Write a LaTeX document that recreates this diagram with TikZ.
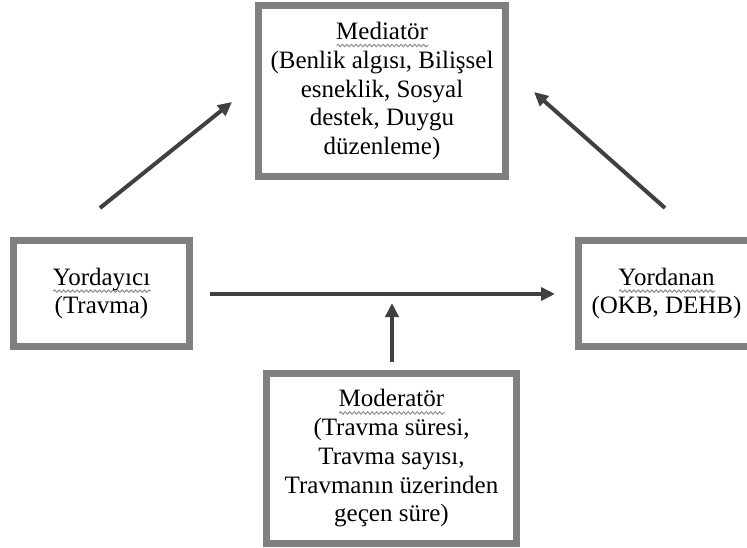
\documentclass[tikz,border=0pt]{standalone}
\usepackage{fontspec}
\setmainfont{Liberation Serif}
\usetikzlibrary{arrows.meta,decorations.pathmorphing}

\definecolor{framegray}{HTML}{7F7F7F}
\definecolor{arrowgray}{HTML}{404040}
\definecolor{squiggray}{HTML}{8C8C8C}

% wavy spell-check line under a word
\newcommand{\squig}[1]{%
  \setbox0=\hbox{#1}%
  \rlap{\tikz[baseline=0pt]\draw[squiggray,line width=1pt,
      decorate,decoration={snake,segment length=4.5pt,amplitude=1.2pt}]
      (0pt,-6pt) -- (\wd0,-6pt);}%
  \box0}

\tikzset{
  box/.style={draw=framegray, line width=7pt, rectangle, inner sep=0pt,
    align=center, font=\fontsize{25}{28.75}\selectfont},
  link/.style={draw=arrowgray, line width=4pt,
    -{Triangle[length=14pt,width=13pt]}}
}

\begin{document}
\begin{tikzpicture}[x=1pt,y=-1pt]
  \useasboundingbox (0,0) rectangle (747,548);
  \fill[white] (0,0) rectangle (747,548);

  \node[box, minimum width=247pt, minimum height=171pt] (med) at (382,91)
    {\squig{Mediatör}\\(Benlik algısı, Bilişsel\\esneklik, Sosyal\\destek, Duygu\\düzenleme)};
  \node[box, minimum width=176pt, minimum height=106pt] (pred) at (101.5,293.5)
    {\squig{Yordayıcı}\\(Travma)};
  \node[box, minimum width=176pt, minimum height=106pt] (crit) at (666.5,293.5)
    {\squig{Yordanan}\\(OKB, DEHB)};
  \node[box, minimum width=250pt, minimum height=170pt] (mod) at (391.5,458.5)
    {\squig{Moderatör}\\(Travma süresi,\\Travma sayısı,\\Travmanın üzerinden\\geçen süre)};

  % free-standing arrow ends
  \coordinate (p1) at (100,208);
  \coordinate (m1) at (232,102);
  \coordinate (c1) at (665,208);
  \coordinate (m2) at (534,92);
  \coordinate (p2) at (210,294);
  \coordinate (c2) at (555,294);
  \coordinate (o1) at (392,362);
  \coordinate (o2) at (392,303);

  \draw[link] (p1) -- (m1);
  \draw[link] (c1) -- (m2);
  \draw[link] (p2) -- (c2);
  \draw[link] (o1) -- (o2);
\end{tikzpicture}
\end{document}
